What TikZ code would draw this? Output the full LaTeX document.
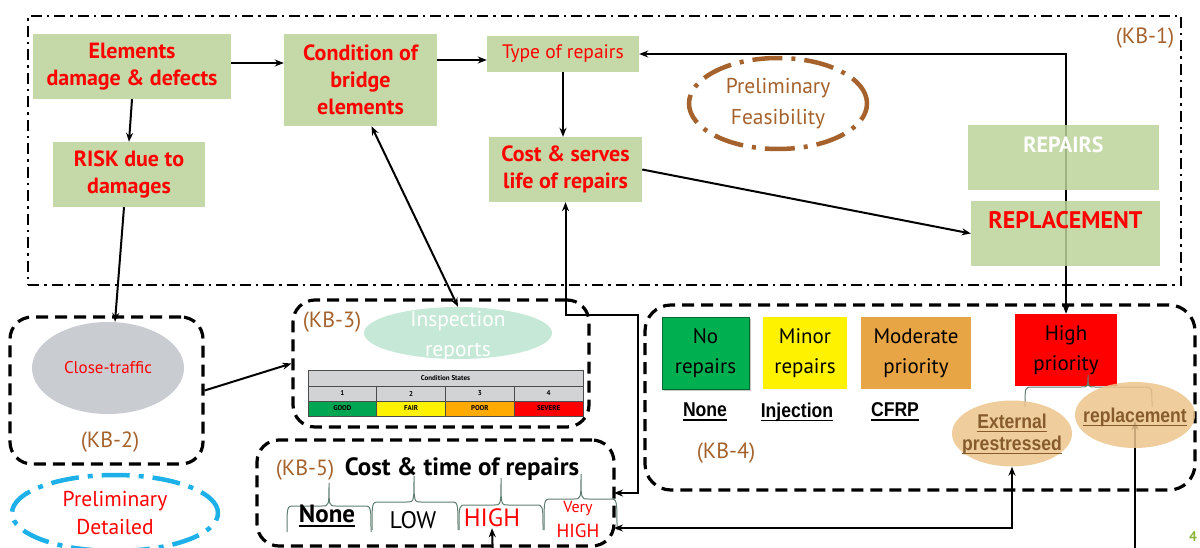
\documentclass[tikz,border=0pt]{standalone}
\usepackage{fontspec}
\setmainfont{PT Sans}
\newfontfamily\narrowfont[FakeStretch=0.88]{Liberation Sans}
\usetikzlibrary{arrows.meta,shapes.geometric,calc,shadows,backgrounds}

\definecolor{boxgreen}{RGB}{197,217,168}
\definecolor{boxgreenb}{RGB}{187,211,153}
\definecolor{kbbrown}{RGB}{165,98,45}
\definecolor{darkbrown}{RGB}{135,92,45}
\definecolor{sblue}{RGB}{30,176,232}
\definecolor{tgray}{RGB}{201,205,210}
\definecolor{mint}{RGB}{198,233,215}
\definecolor{nogreen}{RGB}{0,176,80}
\definecolor{modorange}{RGB}{232,165,70}
\definecolor{tanfill}{RGB}{236,196,140}
\definecolor{bracegray}{RGB}{95,125,112}
\definecolor{pgnum}{RGB}{140,180,60}
\definecolor{csgood}{RGB}{0,166,81}
\definecolor{cspoor}{RGB}{255,170,0}
\definecolor{csgray}{RGB}{210,211,213}

% firm underline scaled with the current font
\newcommand\ulbar[1]{\leavevmode\setbox0\hbox{#1}\rlap{\rule[-0.2em]{\wd0}{0.075em}}\box0}

% upward curly brace: left x, right x, tip x, bar y, foot y, tip y
\newcommand\kbbrace[6]{%
  \draw[bracestyle] (#1,#5) .. controls (#1,#4) .. (#1+7,#4) -- (#3-7,#4)
    .. controls (#3,#4) .. (#3,#6) .. controls (#3,#4) .. (#3+7,#4)
    -- (#2-7,#4) .. controls (#2,#4) .. (#2,#5);}

\begin{document}
\begin{tikzpicture}[x=1pt,y=-1pt,
  gbox/.style={fill=boxgreen, inner sep=0pt, align=center, text=red,
    font=\bfseries\fontsize{22}{27}\selectfont},
  kbframe/.style={draw, line width=3.2pt, dash pattern=on 12pt off 7pt,
    rounded corners=22pt, inner sep=0pt},
  kblabel/.style={text=kbbrown, font=\fontsize{22}{26}\selectfont, inner sep=0pt},
  conn/.style={line width=2pt, -{Stealth[length=9pt,width=7pt]}},
  bconn/.style={line width=2pt,
    {Stealth[length=9pt,width=7pt]}-{Stealth[length=9pt,width=7pt]}},
  prio/.style={inner sep=0pt, align=center, font=\fontsize{21}{30}\selectfont,
    minimum height=72pt},
  method/.style={inner sep=1pt, font=\narrowfont\bfseries\fontsize{20}{24}\selectfont},
  tanell/.style={ellipse, fill=tanfill, fill opacity=0.85,
    inner sep=0pt, minimum width=120pt, minimum height=66pt},
  tantext/.style={inner sep=0pt, align=center, text=darkbrown,
    font=\narrowfont\bfseries\fontsize{20}{22}\selectfont},
  kbaction/.style={fill=boxgreenb, fill opacity=0.85, inner sep=0pt, minimum height=65pt},
  bracestyle/.style={draw=bracegray, line width=1pt},
  cscell/.style={draw=black!70, line width=0.6pt, inner sep=0pt,
    font=\bfseries\fontsize{7}{8}\selectfont, minimum width=68.75pt, minimum height=15pt},
]
\useasboundingbox (0,0) rectangle (1200,548);

% knowledge-base frames
\node[draw, line width=2.4pt, dash pattern=on 11pt off 5pt on 2.5pt off 5pt,
  minimum width=1153pt, minimum height=269pt, inner sep=0pt] (kb1) at (604.5,150.5) {};
\node[kbframe, minimum width=193pt, minimum height=147pt] (kb2) at (106.5,390.5) {};
\node[kbframe, minimum width=296pt, minimum height=127pt] (kb3) at (441,363.5) {};
\node[kbframe, minimum width=550pt, minimum height=185pt, rounded corners=26pt] (kb4) at (920,397.5) {};
\node[kbframe, minimum width=357pt, minimum height=106pt] (kb5) at (435.5,493) {};

\node[kblabel] (kb1lab) at (1145,38) {(KB-1)};
\node[kblabel] (kb2lab) at (110,442) {(KB-2)};
\node[kblabel] (kb3lab) at (332,322) {(KB-3)};
\node[kblabel] (kb4lab) at (726,453) {(KB-4)};
\node[kblabel] (kb5lab) at (305,470) {(KB-5)};

% KB-1 process boxes
\node[gbox, minimum width=198pt, minimum height=65pt] (elem) at (132,66.5) {Elements\\damage \& defects};
\node[gbox, minimum width=153pt, minimum height=92pt] (cond) at (360.5,80) {Condition of\\bridge\\elements};
\node[gbox, font=\fontsize{19.5}{22}\selectfont, minimum width=152pt, minimum height=36pt] (type) at (563,54) {Type of repairs};
\node[gbox, minimum width=153pt, minimum height=65pt] (cost) at (565.5,169.5) {Cost \& serves\\life of repairs};
\node[gbox, minimum width=152pt, minimum height=65pt] (risk) at (129,174.5) {RISK due to\\damages};

\node[ellipse, draw=kbbrown, line width=4.5pt, dash pattern=on 30pt off 9pt on 4pt off 9pt,
  minimum width=178pt, minimum height=91pt, inner sep=0pt, align=center, text=kbbrown,
  font=\fontsize{21.5}{31}\selectfont] (feas) at (778,103.5) {Preliminary\\Feasibility};

\node[kbaction, minimum width=191pt] (repairs) at (1063.5,157.5) {};
\node[anchor=north, inner sep=0pt, text=white, font=\bfseries\fontsize{22}{26}\selectfont]
  (repairstxt) at ([yshift=-12pt]repairs.north) {REPAIRS};
\node[kbaction, minimum width=189pt] (replc) at (1065.5,233.5) {};
\node[anchor=north, inner sep=0pt, text=red, font=\bfseries\fontsize{24}{28}\selectfont]
  (replctxt) at ([yshift=-10pt]replc.north) {REPLACEMENT};

% KB-2
\node[ellipse, fill=tgray, minimum width=152pt, minimum height=92pt, inner sep=0pt,
  text=red, font=\fontsize{17}{20}\selectfont] (close) at (108,368) {Close-traffic};

% KB-3
\node[ellipse, fill=mint, minimum width=188pt, minimum height=52pt, inner sep=0pt] (insp) at (458,333) {};
\node[text=white, align=center, inner sep=0pt, font=\fontsize{21.5}{30}\selectfont] (insptxt) at (458,336) {Inspection\\reports};
\node[cscell, fill=csgray, minimum width=275pt, minimum height=16pt] (cshd) at (445.5,378) {Condition States};
\node[cscell, fill=csgray] (cs1) at (342.375,393.5) {1};
\node[cscell, fill=csgray] (cs2) at (411.125,393.5) {2};
\node[cscell, fill=csgray] (cs3) at (479.875,393.5) {3};
\node[cscell, fill=csgray] (cs4) at (548.625,393.5) {4};
\node[cscell, fill=csgood] (csg) at (342.375,408.5) {GOOD};
\node[cscell, fill=yellow] (csf) at (411.125,408.5) {FAIR};
\node[cscell, fill=cspoor] (csp) at (479.875,408.5) {POOR};
\node[cscell, fill=red] (css) at (548.625,408.5) {SEVERE};

% KB-4 priority classes
\node[prio, fill=nogreen, draw=nogreen!60!black, line width=0.6pt,
  drop shadow={shadow xshift=2pt, shadow yshift=-2pt, opacity=0.45},
  minimum width=87pt] (norep) at (705.5,353) {No\\repairs};
\node[prio, fill=yellow, minimum width=84pt] (minor) at (805,353) {Minor\\repairs};
\node[prio, fill=modorange, minimum width=110pt] (moder) at (916,353) {Moderate\\priority};
\node[prio, fill=red, minimum width=102pt] (high) at (1066,350) {High\\priority};

\node[method] (mnone) at (705,412) {\ulbar{None}};
\node[method] (minj) at (797,412) {\ulbar{Injection}};
\node[method] (mcfrp) at (895,412) {\ulbar{CFRP}};
\kbbrace{1025}{1152}{1088}{387}{407}{375}
\node[tanell] (ext) at (1012,433.5) {};
\node[tanell] (replace) at (1135,415) {};
\node[tantext] (exttxt) at (1012,434) {\ulbar{External}\\\ulbar{prestressed}};
\node[tantext] (repltxt) at (1135,417) {\ulbar{replacement}};

% KB-5 cost and time
\node[inner sep=0pt, font=\bfseries\fontsize{25}{28}\selectfont] (kb5title) at (462,469) {Cost \& time of repairs};
\kbbrace{287}{371}{329}{506}{532}{483}
\kbbrace{372}{458}{414}{502}{530}{476}
\kbbrace{459}{543}{501}{505}{530}{478}
\kbbrace{544}{617}{581}{499}{530}{474}
\node[inner sep=1pt, font=\bfseries\fontsize{25}{28}\selectfont] (k5none) at (327,516) {\ulbar{None}};
\node[inner sep=1pt, font=\fontsize{24}{28}\selectfont] (k5low) at (413,520) {LOW};
\node[inner sep=1pt, text=red, font=\fontsize{25}{28}\selectfont] (k5high) at (492,518) {HIGH};
\node[inner sep=0pt, text=red, font=\fontsize{16}{20}\selectfont] (k5very) at (578,509) {Very};
\node[inner sep=0pt, text=red, font=\fontsize{19}{20}\selectfont] (k5vh) at (578,531) {HIGH};

% preliminary detailed stage
\node[ellipse, draw=sblue, line width=4.5pt, dash pattern=on 28pt off 9pt on 5pt off 9pt,
  minimum width=206pt, minimum height=76pt, inner sep=0pt, align=center, text=red,
  font=\fontsize{21.5}{28}\selectfont] (pdet) at (115,513) {Preliminary\\Detailed};

\node[text=pgnum, inner sep=0pt, font=\bfseries\fontsize{14}{16}\selectfont] (pgno) at (1193,537) {4};

% free ends and bends of connectors
\coordinate (c1) at (638,315);
\coordinate (k5a) at (614,493);
\coordinate (k5b) at (614,528);
\coordinate (rb) at (1135,560);
\coordinate (hb) at (493,560);

% connectors seen through translucent shapes
\begin{pgfonlayer}{background}
\draw[bconn] (type.east) -| (high.north);
\draw[conn] (rb) -- ([yshift=-6pt]replace.center);
\end{pgfonlayer}

% connectors
\draw[conn] ($(elem.east)+(0,-3.5)$) -- ($(elem.east -| cond.west)+(0,-3.5)$);
\draw[conn] ($(cond.east |- type.west)+(0,6)$) -- ($(type.west)+(0,6)$);
\draw[conn] (type.south) -- (type.south |- cost.north);
\draw[conn] (elem.south) -- (risk.north);
\draw[conn] ([xshift=-5pt]risk.south) -- ([xshift=7pt]close.north);
\draw[conn] (kb2.east) -- (kb3.west);
\draw[conn] (cost.east) -- (replc.west);
\draw[bconn] ([xshift=11pt]cond.south) -- (insp.north);
\draw[bconn] (cost.south) |- (c1) |- (k5a);
\draw[bconn] (ext.south) |- (k5b);
\draw[conn] (hb) -- (k5high.south);
\end{tikzpicture}
\end{document}
